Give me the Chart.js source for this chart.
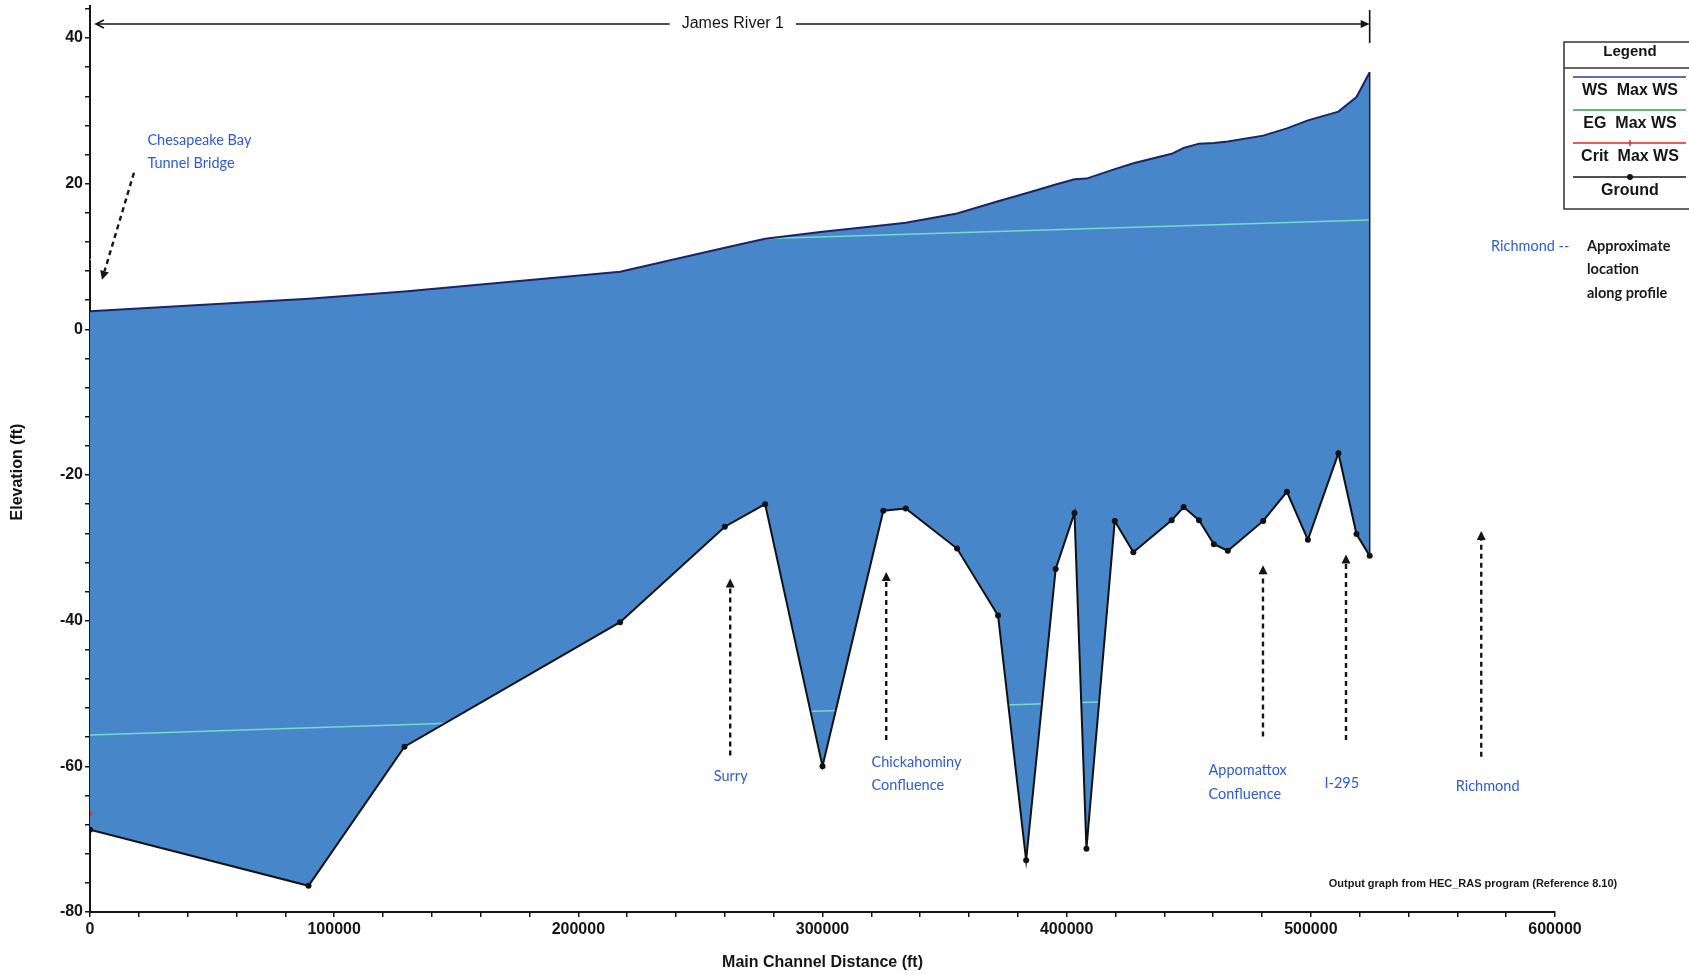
<!DOCTYPE html>
<html lang="en">
<head>
<meta charset="UTF-8">
<title>James River 1 - Water Surface Profile</title>
<script src="https://cdn.jsdelivr.net/npm/chart.js"></script>
<style>
    html, body { margin: 0; padding: 0; background: #fff; overflow: hidden; }
    #wrap { width: 1689px; height: 976px; }
</style>
</head>
<body>
<div id="wrap"><canvas id="profile" width="1689" height="976"></canvas></div>
<script>
// river stations (ft) with water surface and ground elevations (ft)
const stations = [0, 89500, 128800, 217100, 260000, 276500, 300000, 324900, 334100, 355100,
    371900, 383400, 395500, 403200, 408100, 419700, 427300, 443000, 447900, 454200,
    460300, 466000, 480500, 490200, 498800, 511300, 518700, 524100];
const wsElev = [2.5, 4.2, 5.2, 7.9, 11.2, 12.45, 13.4, 14.3, 14.65, 15.9,
    17.6, 18.7, 19.9, 20.6, 20.7, 22.0, 22.8, 24.1, 24.9, 25.5,
    25.6, 25.8, 26.6, 27.6, 28.7, 29.9, 31.9, 35.3];
const groundElev = [-68.7, -76.4, -57.3, -40.2, -27.1, -24.0, -60.0, -24.9, -24.6, -30.1,
    -39.3, -72.9, -32.9, -25.2, -71.3, -26.3, -30.6, -26.2, -24.4, -26.2,
    -29.5, -30.4, -26.3, -22.3, -28.9, -17.0, -28.1, -31.1];
const critStations = [0];
const critElev = [-66.5];

// faint straight lines of the scan, only visible over the water fill
const scanLineX = [0, 600000];
const scanLineLow = [-55.7, -49.1];
const scanLineHigh = [9.6, 15.8];

const xLabels = [0, 100000, 200000, 300000, 400000, 500000, 600000];
const yLabels = [-80, -60, -40, -20, 0, 20, 40];

const blueText = '#2f5cc8';
const notes = [
    { lines: ['Chesapeake Bay', 'Tunnel Bridge'], x: 23500, y: 26.0, align: 'left', from: [18000, 21.5], to: [4900, 6.8] },
    { lines: ['Surry'], x: 262400, y: -61.4, align: 'center', from: [262200, -58.5], to: [262200, -34.2] },
    { lines: ['Chickahominy', 'Confluence'], x: 320100, y: -59.4, align: 'left', from: [326100, -56.4], to: [326100, -33.3] },
    { lines: ['Appomattox', 'Confluence'], x: 458100, y: -60.6, align: 'left', from: [480400, -55.9], to: [480400, -32.4] },
    { lines: ['I-295'], x: 505600, y: -62.4, align: 'left', from: [514400, -56.4], to: [514400, -30.9] },
    { lines: ['Richmond'], x: 572400, y: -62.8, align: 'center', from: [569800, -58.7], to: [569800, -27.7] }
];

function pts(xs, ys) {
    return xs.map((x, i) => ({ x: x, y: ys[i] }));
}

function arrow(ctx, x1, y1, x2, y2, dashed) {
    const a = Math.atan2(y2 - y1, x2 - x1);
    const len = 9, w = 4.5;
    const bx = x2 - Math.cos(a) * len, by = y2 - Math.sin(a) * len;
    ctx.save();
    ctx.strokeStyle = '#151515';
    ctx.fillStyle = '#151515';
    ctx.lineWidth = 2.4;
    if (dashed) ctx.setLineDash([5, 4]);
    ctx.beginPath();
    ctx.moveTo(x1, y1);
    ctx.lineTo(bx, by);
    ctx.stroke();
    ctx.setLineDash([]);
    ctx.beginPath();
    ctx.moveTo(x2, y2);
    ctx.lineTo(bx - Math.sin(a) * w, by + Math.cos(a) * w);
    ctx.lineTo(bx + Math.sin(a) * w, by - Math.cos(a) * w);
    ctx.closePath();
    ctx.fill();
    ctx.restore();
}

const overlay = {
    id: 'overlay',
    beforeDatasetsDraw(chart) {
        const { ctx, scales: { x, y } } = chart;
        ctx.save();
        ctx.globalCompositeOperation = 'source-atop';
        ctx.strokeStyle = 'rgba(120, 235, 205, 0.85)';
        ctx.lineWidth = 1.5;
        [scanLineLow, scanLineHigh].forEach(line => {
            ctx.beginPath();
            ctx.moveTo(x.getPixelForValue(scanLineX[0]), y.getPixelForValue(line[0]));
            ctx.lineTo(x.getPixelForValue(scanLineX[1]), y.getPixelForValue(line[1]));
            ctx.stroke();
        });
        ctx.restore();
    },
    afterDatasetsDraw(chart) {
        // downstream end of the reach
        const { ctx, scales: { x, y } } = chart;
        const n = stations.length - 1;
        const px = x.getPixelForValue(stations[n]);
        ctx.save();
        ctx.strokeStyle = '#1a1a1a';
        ctx.lineWidth = 1.5;
        ctx.beginPath();
        ctx.moveTo(px, y.getPixelForValue(wsElev[n]));
        ctx.lineTo(px, y.getPixelForValue(groundElev[n]));
        ctx.stroke();
        ctx.restore();
    },
    afterDraw(chart) {
        const { ctx, scales: { x, y } } = chart;
        ctx.save();

        // y axis title sits a bit below the middle in the original
        ctx.save();
        ctx.translate(18, 472);
        ctx.rotate(-Math.PI / 2);
        ctx.font = 'bold 16px "Liberation Sans", Arial, sans-serif';
        ctx.fillStyle = ink;
        ctx.textAlign = 'center';
        ctx.textBaseline = 'middle';
        ctx.fillText('Elevation (ft)', 0, 0);
        ctx.restore();

        // reach label across the top
        const left = x.getPixelForValue(0) + 6;
        const right = x.getPixelForValue(stations[stations.length - 1]);
        const ry = 24;
        const mid = (left + right) / 2;
        ctx.font = '16px "Liberation Sans", Arial, sans-serif';
        ctx.fillStyle = '#151515';
        ctx.textAlign = 'center';
        ctx.textBaseline = 'middle';
        ctx.fillText('James River 1', mid, ry);
        const tw = ctx.measureText('James River 1').width / 2 + 12;
        ctx.strokeStyle = '#151515';
        ctx.lineWidth = 1.6;
        ctx.beginPath();
        ctx.moveTo(left, ry); ctx.lineTo(mid - tw, ry);
        ctx.moveTo(mid + tw, ry); ctx.lineTo(right - 8, ry);
        ctx.moveTo(left + 8, ry - 4); ctx.lineTo(left, ry); ctx.lineTo(left + 8, ry + 4);
        ctx.moveTo(right, 10); ctx.lineTo(right, 43);
        ctx.stroke();
        ctx.fillStyle = '#151515';
        ctx.beginPath();
        ctx.moveTo(right, ry); ctx.lineTo(right - 9, ry - 4); ctx.lineTo(right - 9, ry + 4);
        ctx.closePath(); ctx.fill();

        // location notes with dashed arrows
        notes.forEach(n => {
            arrow(ctx, x.getPixelForValue(n.from[0]), y.getPixelForValue(n.from[1]),
                x.getPixelForValue(n.to[0]), y.getPixelForValue(n.to[1]), true);
            ctx.font = '14.5px Lato, "Open Sans", sans-serif';
            ctx.fillStyle = blueText;
            ctx.textAlign = n.align;
            ctx.textBaseline = 'middle';
            const tx = x.getPixelForValue(n.x);
            const ty = y.getPixelForValue(n.y);
            n.lines.forEach((t, i) => ctx.fillText(t, tx, ty + i * 23.3));
        });

        // Richmond note, top right
        ctx.textAlign = 'left';
        ctx.font = '14.5px Lato, sans-serif';
        ctx.fillStyle = blueText;
        ctx.fillText('Richmond --', 1491, 246);
        ctx.font = 'bold 14.5px Lato, sans-serif';
        ctx.fillStyle = '#1a1a1a';
        ctx.fillText('Approximate', 1587, 246);
        ctx.fillText('location', 1587, 269);
        ctx.fillText('along profile', 1587, 293);

        // legend box
        ctx.strokeStyle = '#333';
        ctx.lineWidth = 1.5;
        ctx.strokeRect(1564, 42, 160, 167);
        ctx.beginPath();
        ctx.moveTo(1564, 68); ctx.lineTo(1689, 68);
        ctx.stroke();
        ctx.textAlign = 'center';
        ctx.fillStyle = '#151515';
        ctx.font = 'bold 15px "Liberation Sans", Arial, sans-serif';
        ctx.fillText('Legend', 1630, 52);
        const rows = [
            { y: 77, color: '#2b3d9a', text: 'WS  Max WS', mark: null },
            { y: 110, color: '#3a9a4a', text: 'EG  Max WS', mark: null },
            { y: 143, color: '#e02424', text: 'Crit  Max WS', mark: 'plus' },
            { y: 177, color: '#151515', text: 'Ground', mark: 'dot' }
        ];
        ctx.font = 'bold 16px "Liberation Sans", Arial, sans-serif';
        rows.forEach(r => {
            ctx.strokeStyle = r.color;
            ctx.lineWidth = 1.5;
            ctx.beginPath();
            ctx.moveTo(1573, r.y); ctx.lineTo(1686, r.y);
            ctx.stroke();
            if (r.mark === 'dot') {
                ctx.fillStyle = r.color;
                ctx.beginPath(); ctx.arc(1630, r.y, 3, 0, Math.PI * 2); ctx.fill();
            } else if (r.mark === 'plus') {
                ctx.beginPath();
                ctx.moveTo(1630, r.y - 3); ctx.lineTo(1630, r.y + 3);
                ctx.stroke();
            }
            ctx.fillStyle = '#151515';
            ctx.fillText(r.text, 1630, r.y + 13.5);
        });

        // source credit
        ctx.font = 'bold 11px "Liberation Sans", Arial, sans-serif';
        ctx.fillStyle = '#1a1a1a';
        ctx.fillText('Output graph from HEC_RAS program (Reference 8.10)', 1473, 884);
        ctx.restore();
    }
};

const axisFont = { family: '"Liberation Sans", Arial, sans-serif', size: 16, weight: 'bold' };
const ink = '#151515';

const chart = new Chart(document.getElementById('profile'), {
    type: 'line',
    data: {
        datasets: [
            {
                label: 'WS Max WS',
                data: pts(stations, wsElev),
                borderColor: '#1c2466',
                borderWidth: 2,
                pointRadius: 0,
                fill: 1,
                backgroundColor: 'rgb(72, 134, 202)'
            },
            {
                label: 'Ground',
                data: pts(stations, groundElev),
                borderColor: '#111',
                borderWidth: 2,
                pointRadius: 3,
                pointBackgroundColor: '#111',
                pointBorderWidth: 0,
                fill: false
            },
            {
                label: 'Crit Max WS',
                data: pts(critStations, critElev),
                showLine: false,
                pointRadius: 2,
                pointBackgroundColor: '#e02424',
                pointBorderWidth: 0
            }
        ]
    },
    options: {
        responsive: false,
        animation: false,
        events: [],
        layout: { padding: { left: 0, top: 6, right: 134, bottom: 0 } },
        plugins: {
            legend: { display: false },
            tooltip: { enabled: false },
            filler: { drawTime: 'beforeDatasetsDraw' }
        },
        scales: {
            x: {
                type: 'linear',
                min: 0,
                max: 600000,
                afterFit: s => { s.height = 64; s.paddingLeft = 0; s.paddingRight = 0; },
                afterBuildTicks: s => {
                    const t = [];
                    for (let v = 0; v <= 600000; v += 20000) t.push({ value: v });
                    s.ticks = t;
                },
                border: { display: true, color: ink, width: 2 },
                grid: { drawOnChartArea: false, drawTicks: true, tickLength: 5, color: ink, lineWidth: 1.5 },
                ticks: {
                    autoSkip: false, maxRotation: 0, padding: 3, color: ink, font: axisFont,
                    callback: v => xLabels.includes(v) ? String(v) : ''
                },
                title: {
                    display: true, text: 'Main Channel Distance (ft)', color: ink, font: axisFont,
                    padding: { top: 0, bottom: 4 }
                }
            },
            y: {
                type: 'linear',
                min: -80,
                max: 44.4,
                afterFit: s => { s.width = 90; s.paddingTop = 0; s.paddingBottom = 0; },
                afterBuildTicks: s => {
                    const t = [];
                    for (let v = -80; v <= 44; v += 4) t.push({ value: v });
                    s.ticks = t;
                },
                border: { display: true, color: ink, width: 2 },
                grid: { drawOnChartArea: false, drawTicks: true, tickLength: 5, color: ink, lineWidth: 1.5 },
                ticks: {
                    autoSkip: false, padding: 2, color: ink, font: axisFont,
                    callback: v => yLabels.includes(v) ? String(v) : ''
                },
                title: { display: false, text: 'Elevation (ft)' }
            }
        }
    },
    plugins: [overlay]
});
</script>
</body>
</html>
